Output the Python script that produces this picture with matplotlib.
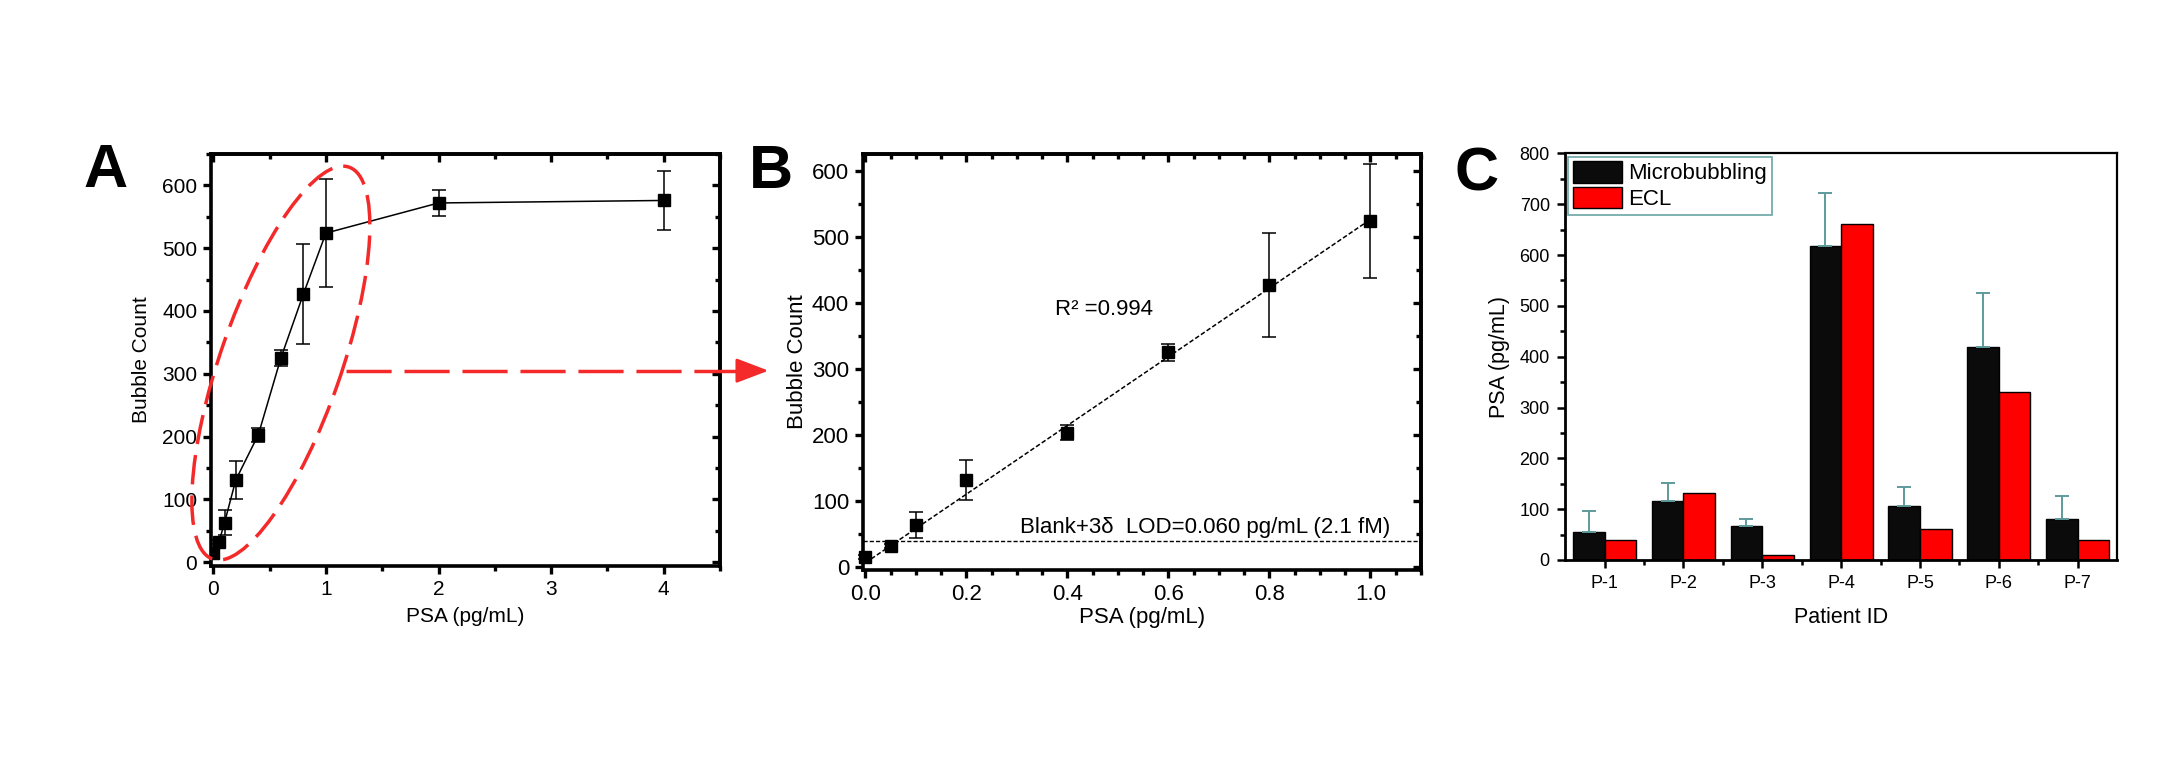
import numpy as np
import matplotlib
matplotlib.use('Agg')
import matplotlib.pyplot as plt
from matplotlib.patches import Ellipse
from matplotlib.transforms import IdentityTransform
from matplotlib.ticker import MultipleLocator, FixedLocator, FormatStrFormatter

plt.rcParams['font.family'] = ['Liberation Sans', 'DejaVu Sans']

# --- data: PSA calibration (panels A and B) ---
psa_conc = [0, 0.05, 0.1, 0.2, 0.4, 0.6, 0.8, 1.0, 2.0, 4.0]
bubble_count = [15, 32, 63, 131, 203, 325, 427, 524, 572, 576]
bubble_err = [3, 3, 20, 30, 11, 13, 79, 86, 20, 47]
n_linear = 8                      # points up to 1 pg/mL used in B
fit_x = [0.0, 1.0]
fit_y = [6, 526]
lod_level = 39.5                  # Blank + 3 delta

# --- data: patient samples (panel C) ---
patients = ['P-1', 'P-2', 'P-3', 'P-4', 'P-5', 'P-6', 'P-7']
micro_psa = [56, 116, 66, 618, 106, 420, 80]
micro_err = [40, 35, 14, 105, 38, 106, 46]
ecl_psa = [40, 131, 10, 661, 60, 330, 40]

RED = '#f42a2a'

fig = plt.figure(figsize=(21.71, 7.63), dpi=100)
axA = fig.add_axes([0.0972, 0.2582, 0.2345, 0.5400])
axB = fig.add_axes([0.3975, 0.2529, 0.2570, 0.5452])
axC = fig.add_axes([0.7209, 0.2661, 0.2543, 0.5328])


def origin_frame(ax, xmaj, xmin, ymaj, ymin, fs):
    for sp in ax.spines.values():
        sp.set_linewidth(2.6)
    ax.xaxis.set_major_locator(MultipleLocator(xmaj))
    ax.xaxis.set_minor_locator(MultipleLocator(xmin))
    ax.yaxis.set_major_locator(MultipleLocator(ymaj))
    ax.yaxis.set_minor_locator(MultipleLocator(ymin))
    ax.tick_params(which='both', direction='out', width=2.4, labelsize=fs,
                   top=False, right=False)
    ax.tick_params(which='major', length=6, pad=4)
    ax.tick_params(which='minor', length=3.5)
    # ticks pointing inward on the top and right sides
    top = ax.secondary_xaxis('top')
    top.xaxis.set_major_locator(MultipleLocator(xmaj))
    top.xaxis.set_minor_locator(MultipleLocator(xmin))
    top.tick_params(which='both', direction='in', width=2.4, labeltop=False)
    top.tick_params(which='major', length=6)
    top.tick_params(which='minor', length=3.5)
    top.spines['top'].set_linewidth(2.6)
    right = ax.secondary_yaxis('right')
    right.yaxis.set_major_locator(MultipleLocator(ymaj))
    right.yaxis.set_minor_locator(MultipleLocator(ymin))
    right.tick_params(which='both', direction='in', width=2.4, labelright=False)
    right.tick_params(which='major', length=6)
    right.tick_params(which='minor', length=3.5)
    right.spines['right'].set_linewidth(2.6)


# ---------------- A ----------------
axA.errorbar(psa_conc, bubble_count, yerr=bubble_err, color='black', lw=1.1,
             marker='s', ms=8, mfc='black', mec='black', ecolor='black',
             elinewidth=1.1, capsize=5, capthick=1.1, zorder=3)
axA.set_xlim(-0.02, 4.5)
axA.set_ylim(-6, 650)
origin_frame(axA, 1, 0.5, 100, 50, 15)
axA.set_xlabel('PSA (pg/mL)', fontsize=15)
axA.set_ylabel('Bubble Count', fontsize=15)
axA.xaxis.set_label_coords(0.5, -0.10)
axA.yaxis.set_label_coords(-0.117, 0.5)

# dashed ellipse around the linear range and arrow towards B
cx, cy = axA.transData.transform((0.60, 317))
fig.add_artist(Ellipse((cx, cy), width=415, height=121, angle=70.8,
                       transform=IdentityTransform(), fill=False, ec=RED,
                       lw=2.5, ls=(0, (8.5, 3.2)), zorder=5))
axA.plot([1.18, 4.70], [305, 305], color=RED, lw=2.5, ls=(0, (13, 3.7)),
         clip_on=False, zorder=5)
axA.annotate('', xy=(4.93, 305), xytext=(4.66, 305), annotation_clip=False,
             arrowprops=dict(arrowstyle='-|>,head_length=1.0,head_width=0.38',
                             color=RED, lw=2.0, mutation_scale=20,
                             shrinkA=0, shrinkB=0))

# ---------------- B ----------------
axB.plot(fit_x, fit_y, color='black', lw=1.1, ls=(0, (3, 1.5)), zorder=2)
axB.axhline(lod_level, color='black', lw=1.0, ls=(0, (3, 1.5)), zorder=2)
axB.errorbar(psa_conc[:n_linear], bubble_count[:n_linear],
             yerr=bubble_err[:n_linear], ls='none', marker='s', ms=8,
             mfc='black', mec='black', ecolor='black', elinewidth=1.1,
             capsize=5, capthick=1.1, zorder=3, clip_on=False)
axB.set_xlim(-0.005, 1.1)
axB.set_ylim(-5, 625)
origin_frame(axB, 0.2, 0.05, 100, 50, 16)
axB.xaxis.set_major_formatter(FormatStrFormatter('%.1f'))
axB.set_xlabel('PSA (pg/mL)', fontsize=16)
axB.set_ylabel('Bubble Count', fontsize=16)
axB.xaxis.set_label_coords(0.5, -0.089)
axB.yaxis.set_label_coords(-0.099, 0.5)
axB.text(0.473, 390, 'R² =0.994', fontsize=16, ha='center', va='center')
axB.text(1.04, 60, 'Blank+3δ  LOD=0.060 pg/mL (2.1 fM)', fontsize=16,
         ha='right', va='center')

# ---------------- C ----------------
pos = np.arange(1, len(patients) + 1)
bw = 0.4
axC.bar(pos - bw / 2, micro_psa, bw, color='#0b0b0b', edgecolor='black',
        lw=1.0, label='Microbubbling',
        yerr=[np.zeros(len(pos)), micro_err],
        error_kw=dict(ecolor='#5e9a9a', elinewidth=1.4, capsize=5,
                      capthick=1.4))
axC.bar(pos + bw / 2, ecl_psa, bw, color='#ff0000', edgecolor='black',
        lw=1.0, label='ECL')
axC.set_xlim(0.5, 7.5)
axC.set_ylim(0, 800)
axC.set_xticks(pos, patients)
axC.xaxis.set_minor_locator(FixedLocator(pos[:-1] + 0.5))
axC.yaxis.set_major_locator(MultipleLocator(100))
axC.yaxis.set_minor_locator(MultipleLocator(50))
for side in ('left', 'bottom'):
    axC.spines[side].set_linewidth(2.0)
for side in ('top', 'right'):
    axC.spines[side].set_linewidth(1.6)
axC.tick_params(which='both', direction='out', width=1.8, labelsize=13,
                top=False, right=False)
axC.tick_params(which='major', length=6, pad=5)
axC.tick_params(which='minor', length=3.5)
axC.set_xlabel('Patient ID', fontsize=15.5)
axC.set_ylabel('PSA (pg/mL)', fontsize=15.5)
axC.xaxis.set_label_coords(0.5, -0.115)
axC.yaxis.set_label_coords(-0.10, 0.5)
leg = axC.legend(loc='upper left', bbox_to_anchor=(0.0, 1.0),
                 borderaxespad=0.15, fontsize=16, frameon=True, fancybox=False,
                 edgecolor='#6aa6a6', framealpha=1, handlelength=2.2,
                 handleheight=1.1, handletextpad=0.3, labelspacing=0.12,
                 borderpad=0.2)
leg.get_frame().set_linewidth(1.2)

# panel letters
for lbl, xf, yf in [('A', 0.0486, 0.7549), ('B', 0.3551, 0.7536),
                    ('C', 0.6803, 0.7502)]:
    fig.text(xf, yf, lbl, fontsize=44, fontweight='bold', ha='center',
             va='baseline')

fig.savefig('out.png', dpi=100)
